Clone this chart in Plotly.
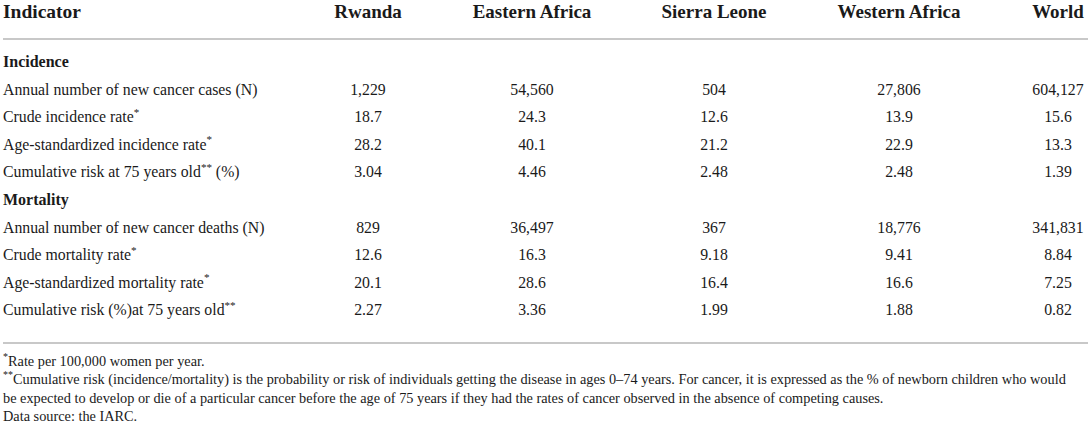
import plotly.graph_objects as go

# table content
countries = ["Rwanda", "Eastern Africa", "Sierra Leone", "Western Africa", "World"]
sections = ["Incidence", "Mortality"]
incidence_labels = [
    "Annual number of new cancer cases (N)",
    "Crude incidence rate<sup>*</sup>",
    "Age-standardized incidence rate<sup>*</sup>",
    "Cumulative risk at 75 years old<sup>**</sup> (%)",
]
mortality_labels = [
    "Annual number of new cancer deaths (N)",
    "Crude mortality rate<sup>*</sup>",
    "Age-standardized mortality rate<sup>*</sup>",
    "Cumulative risk (%)at 75 years old<sup>**</sup>",
]
rwanda = [1229, 18.7, 28.2, 3.04, 829, 12.6, 20.1, 2.27]
eastern_africa = [54560, 24.3, 40.1, 4.46, 36497, 16.3, 28.6, 3.36]
sierra_leone = [504, 12.6, 21.2, 2.48, 367, 9.18, 16.4, 1.99]
western_africa = [27806, 13.9, 22.9, 2.48, 18776, 9.41, 16.6, 1.88]
world = [604127, 15.6, 13.3, 1.39, 341831, 8.84, 7.25, 0.82]
footnotes = [
    "<sup>*</sup>Rate per 100,000 women per year.",
    "<sup>**</sup>Cumulative risk (incidence/mortality) is the probability or risk of individuals getting the disease in ages 0\u201374 years. For cancer, it is expressed as the % of newborn children who would",
    "be expected to develop or die of a particular cancer before the age of 75 years if they had the rates of cancer observed in the absence of competing causes.",
    "Data source: the IARC.",
]

FONT = "Liberation Serif"
TXT = "#1a1a1a"
W, H = 1091, 436

col_x = [368, 532, 714, 899, 1058]
header_y = 13
row_y0 = 63
row_h = 27.6
line_top = 39
line_bot = 343
foot_y0 = 362
foot_h = 18.5


def fmt(v):
    if isinstance(v, int):
        return f"{v:,}"
    return str(v)


# layout of body rows: a section label row, then its indicator rows
sec_ys, lab_ys, labels = [], [], []
i = 0
for sec, lab in zip(sections, [incidence_labels, mortality_labels]):
    sec_ys.append(row_y0 + i * row_h)
    i += 1
    for t in lab:
        lab_ys.append(row_y0 + i * row_h)
        labels.append(t)
        i += 1

fig = go.Figure()

fig.add_trace(go.Scatter(
    x=[3] * len(sections), y=sec_ys, mode="text", text=sections,
    textposition="middle right",
    textfont=dict(family=FONT, size=16, color=TXT, weight="bold"),
    hoverinfo="skip",
))
fig.add_trace(go.Scatter(
    x=[3] * len(labels), y=lab_ys, mode="text", text=labels,
    textposition="middle right",
    textfont=dict(family=FONT, size=15.8, color=TXT),
    hoverinfo="skip",
))

for cx, vals in zip(col_x, [rwanda, eastern_africa, sierra_leone, western_africa, world]):
    fig.add_trace(go.Scatter(
        x=[cx] * len(vals), y=lab_ys, mode="text",
        text=[fmt(v) for v in vals],
        textposition="middle center",
        textfont=dict(family=FONT, size=15.8, color=TXT),
        hoverinfo="skip",
    ))

# header row
fig.add_trace(go.Scatter(
    x=[3], y=[header_y], mode="text", text=["Indicator"],
    textposition="middle right",
    textfont=dict(family=FONT, size=19.5, color=TXT, weight="bold"),
    hoverinfo="skip",
))
fig.add_trace(go.Scatter(
    x=col_x, y=[header_y] * len(countries), mode="text", text=countries,
    textposition="middle center",
    textfont=dict(family=FONT, size=19, color=TXT, weight="bold"),
    hoverinfo="skip",
))

# footnotes
fig.add_trace(go.Scatter(
    x=[3] * len(footnotes), y=[foot_y0 + k * foot_h for k in range(len(footnotes))],
    mode="text", text=footnotes, textposition="middle right",
    textfont=dict(family=FONT, size=14.3, color=TXT), hoverinfo="skip",
))

for y in (line_top, line_bot):
    fig.add_shape(type="line", xref="x", yref="y", x0=3, x1=1088, y0=y, y1=y,
                  line=dict(color="#c8c8c8", width=2))

fig.update_layout(
    width=W, height=H,
    margin=dict(l=0, r=0, t=0, b=0),
    paper_bgcolor="white", plot_bgcolor="white",
    showlegend=False,
    xaxis=dict(range=[0, W], visible=False, fixedrange=True),
    yaxis=dict(range=[H, 0], visible=False, fixedrange=True),
)

# drop the default page margin so the 1091x436 figure fills the window exactly
fig.write_html("out.html", config={"displayModeBar": False},
               post_script="document.body.style.margin='0';document.body.style.overflow='hidden';")
